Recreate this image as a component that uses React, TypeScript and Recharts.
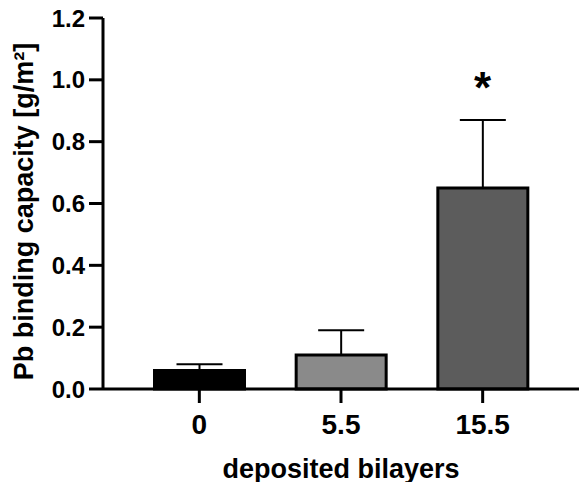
import React from 'react';
import { BarChart, Bar, XAxis, YAxis, Cell, ErrorBar, ReferenceDot, Label } from 'recharts';

const categories = ['0', '5.5', '15.5'];
const means = [0.06, 0.11, 0.65];
const sdUpper = [0.02, 0.08, 0.22];
const fills = ['#000000', '#8a8a8a', '#5c5c5c'];
const yTicks = [0, 0.2, 0.4, 0.6, 0.8, 1.0, 1.2];
const significance = [{ cat: '15.5', y: 1.0, mark: '*' }];

const data = categories.map((c, i) => ({ cat: c, mean: means[i], err: [0, sdUpper[i]] }));

const FONT = '"Liberation Sans", Arial, Helvetica, sans-serif';

export default function App() {
  return (
    <div style={{ position: 'absolute', left: 0, top: 0, background: '#fff' }}>
      <BarChart width={579} height={482} data={data} margin={{ top: 18, right: 0, bottom: 0, left: 0 }}>
        <XAxis
          dataKey="cat"
          padding={{ left: 25.5, right: 25.5 }}
          height={93}
          tickSize={14}
          tickMargin={11}
          axisLine={{ stroke: '#000', strokeWidth: 3 }}
          tickLine={{ stroke: '#000', strokeWidth: 3 }}
          tick={{ fill: '#000', fontSize: 28, fontWeight: 700, fontFamily: FONT }}
        >
          <Label
            value="deposited bilayers"
            position="insideBottom"
            offset={4.5}
            style={{ fill: '#000', fontSize: 27, fontWeight: 700, fontFamily: FONT }}
          />
        </XAxis>
        <YAxis
          domain={[0, 1.2]}
          ticks={yTicks}
          width={103}
          tickSize={14}
          tickMargin={4}
          tickFormatter={(v: number) => v.toFixed(1)}
          axisLine={{ stroke: '#000', strokeWidth: 3 }}
          tickLine={{ stroke: '#000', strokeWidth: 3 }}
          tick={{ fill: '#000', fontSize: 24, fontWeight: 700, fontFamily: FONT }}
          label={{
            content: () => (
              <text
                transform="translate(33, 211.5) rotate(-90)"
                textAnchor="middle"
                fill="#000"
                fontSize={27}
                fontWeight={700}
                fontFamily={FONT}
              >
                Pb binding capacity [g/m²]
              </text>
            ),
          }}
        />
        <Bar dataKey="mean" barSize={90} stroke="#000" strokeWidth={3} isAnimationActive={false}>
          {data.map((d, i) => (
            <Cell key={d.cat} fill={fills[i]} />
          ))}
          <ErrorBar dataKey="err" width={23} stroke="#000" strokeWidth={2} direction="y" isAnimationActive={false} />
        </Bar>
        {significance.map((s) => (
          <ReferenceDot
            key={s.cat}
            x={s.cat}
            y={s.y}
            r={0}
            ifOverflow="visible"
            shape={(p: any) => (
              <text
                x={p.cx}
                y={p.cy}
                dy={23}
                textAnchor="middle"
                fill="#000"
                fontSize={44}
                fontWeight={700}
                fontFamily={FONT}
              >
                {s.mark}
              </text>
            )}
          />
        ))}
      </BarChart>
    </div>
  );
}
